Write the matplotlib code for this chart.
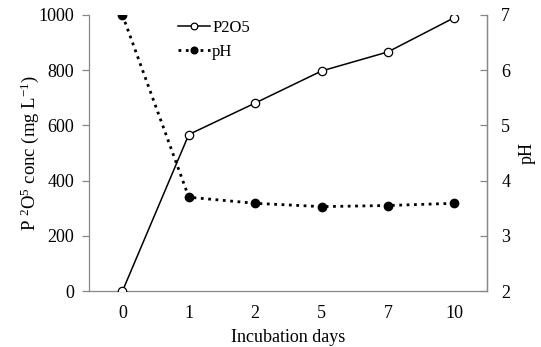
import numpy as np
import matplotlib
matplotlib.use("Agg")
import matplotlib.pyplot as plt

plt.rcParams['font.family'] = ['Liberation Serif', 'DejaVu Serif']
plt.rcParams['mathtext.fontset'] = 'custom'
plt.rcParams['mathtext.rm'] = 'Liberation Serif'
plt.rcParams['mathtext.it'] = 'Liberation Serif:italic'

# data
days = ['0', '1', '2', '5', '7', '10']
p2o5 = [0, 567, 681, 797, 866, 990]
ph = [7.0, 3.70, 3.59, 3.53, 3.55, 3.59]

fig, ax = plt.subplots(figsize=(5.41, 3.47), dpi=100)
fig.subplots_adjust(left=0.165, right=0.901, top=0.957, bottom=0.161)
x = np.arange(len(days))

l1, = ax.plot(x, p2o5, '-o', color='black', lw=1.1, mfc='white', mec='black',
              ms=6, mew=0.9, label='P2O5', zorder=3)
ax.set_ylim(0, 1000)
ax.set_yticks(range(0, 1001, 200))
ax.set_xlim(-0.5, len(days) - 0.5)
ax.set_xticks(x)
ax.set_xticklabels(days)
ax.set_xlabel('Incubation days', fontsize=13, labelpad=5)
ax.set_ylabel(r'P $^{2}$O$^{5}$ conc (mg L$^{-1}$)', fontsize=13.5)
ax.yaxis.set_label_coords(-0.12, 0.5)

ax2 = ax.twinx()
l2, = ax2.plot(x, ph, ':o', color='black', lw=2, ms=6, mfc='black',
               mec='black', label='pH', zorder=3)
ax2.set_ylim(2, 7)
ax2.set_yticks(range(2, 8))
ax2.set_ylabel('pH', fontsize=13, labelpad=6)

for a in (ax, ax2):
    a.spines['top'].set_visible(False)
    for s in a.spines.values():
        s.set_color('#888888')
        s.set_linewidth(0.9)
    a.tick_params(labelsize=13, colors='black', color='#888888', width=0.9, length=5)
ax.tick_params(axis='x', length=0, pad=10)
ax.tick_params(axis='y', pad=6)
ax2.tick_params(axis='y', direction='in', pad=10)
ax2.spines['left'].set_visible(False)
ax2.spines['bottom'].set_visible(False)

ax.legend(handles=[l1, l2], loc='upper left', bbox_to_anchor=(0.185, 1.035),
          frameon=False, fontsize=12, handlelength=1.9, handletextpad=0.15,
          labelspacing=0.45, markerscale=0.8)

fig.savefig('out.png', dpi=100)
